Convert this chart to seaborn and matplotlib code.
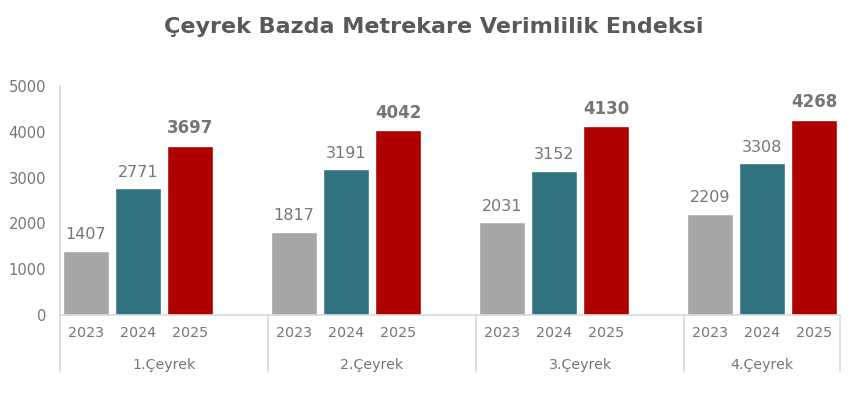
import matplotlib
matplotlib.use("Agg")
import matplotlib.pyplot as plt
import matplotlib.transforms as mtransforms
import seaborn as sns
import pandas as pd

# ---- data ----
quarters = ["1.Çeyrek", "2.Çeyrek", "3.Çeyrek", "4.Çeyrek"]
years = ["2023", "2024", "2025"]
values_2023 = [1407, 1817, 2031, 2209]
values_2024 = [2771, 3191, 3152, 3308]
values_2025 = [3697, 4042, 4130, 4268]
title = "Çeyrek Bazda Metrekare Verimlilik Endeksi"
yticks = [0, 1000, 2000, 3000, 4000, 5000]

colors = {"2023": "#A6A6A6", "2024": "#317380", "2025": "#AE0000"}
text_gray = "#767676"
line_gray = "#D9D9D9"

series = {"2023": values_2023, "2024": values_2024, "2025": values_2025}
rows = []
order = []
for qi, q in enumerate(quarters):
    for y in years:
        key = f"{q}|{y}"
        order.append(key)
        rows.append({"slot": key, "year": y, "value": series[y][qi]})
    if qi < len(quarters) - 1:
        order.append(f"{q}|blank")
df = pd.DataFrame(rows)

sns.set_theme(style="white")
plt.rcParams["font.family"] = ["DejaVu Sans"]

fig = plt.figure(figsize=(8.62, 3.98), dpi=100)
ax = fig.add_axes([60 / 862, 1 - 315 / 398, 780 / 862, (315 - 86) / 398])

sns.barplot(data=df, x="slot", y="value", hue="year", order=order,
            hue_order=years, palette=colors, dodge=False, width=0.9,
            saturation=1, legend=False, ax=ax)

ax.set_xlim(-0.5, len(order) - 0.5)
ax.set_ylim(0, 5000)
ax.set_yticks(yticks)
ax.set_yticklabels([str(t) for t in yticks], color=text_gray, fontsize=10.6)
ax.set_xticks(range(len(order)))
ax.set_xticklabels([s.split("|")[1] if not s.endswith("blank") else "" for s in order],
                   color=text_gray, fontsize=10.3)
ax.tick_params(axis="x", length=0, pad=8)
ax.tick_params(axis="y", length=0, pad=10)
ax.set_xlabel("")
ax.set_ylabel("")

for s in ["top", "right"]:
    ax.spines[s].set_visible(False)
for s in ["left", "bottom"]:
    ax.spines[s].set_color(line_gray)
    ax.spines[s].set_linewidth(1.2)

# value labels
for cont, y in zip(ax.containers, years):
    bold = (y == "2025")
    ax.bar_label(cont, labels=[f"{int(v)}" for v in cont.datavalues],
                 padding=6, color=text_gray,
                 fontsize=12 if bold else 11.5,
                 fontweight="bold" if bold else "normal")

# group separators and quarter labels
trans = mtransforms.blended_transform_factory(ax.transData, ax.transAxes)
axes_h_px = 315 - 86
below = -(372 - 315) / axes_h_px
seps = [4 * k - 0.5 for k in range(len(quarters))] + [len(order) - 0.5]
for xs in seps:
    ax.plot([xs, xs], [0, below], transform=trans, color=line_gray,
            lw=1.2, clip_on=False)
for k, q in enumerate(quarters):
    cx = (seps[k] + seps[k + 1]) / 2
    ax.text(cx, -(365 - 315) / axes_h_px, q, transform=trans, ha="center",
            va="center", color=text_gray, fontsize=10.3)

fig.text(434 / 862, 1 - 27 / 398, title, ha="center", va="center",
         fontsize=16, fontweight="bold", color="#595959")

fig.savefig("out.png", dpi=100)
